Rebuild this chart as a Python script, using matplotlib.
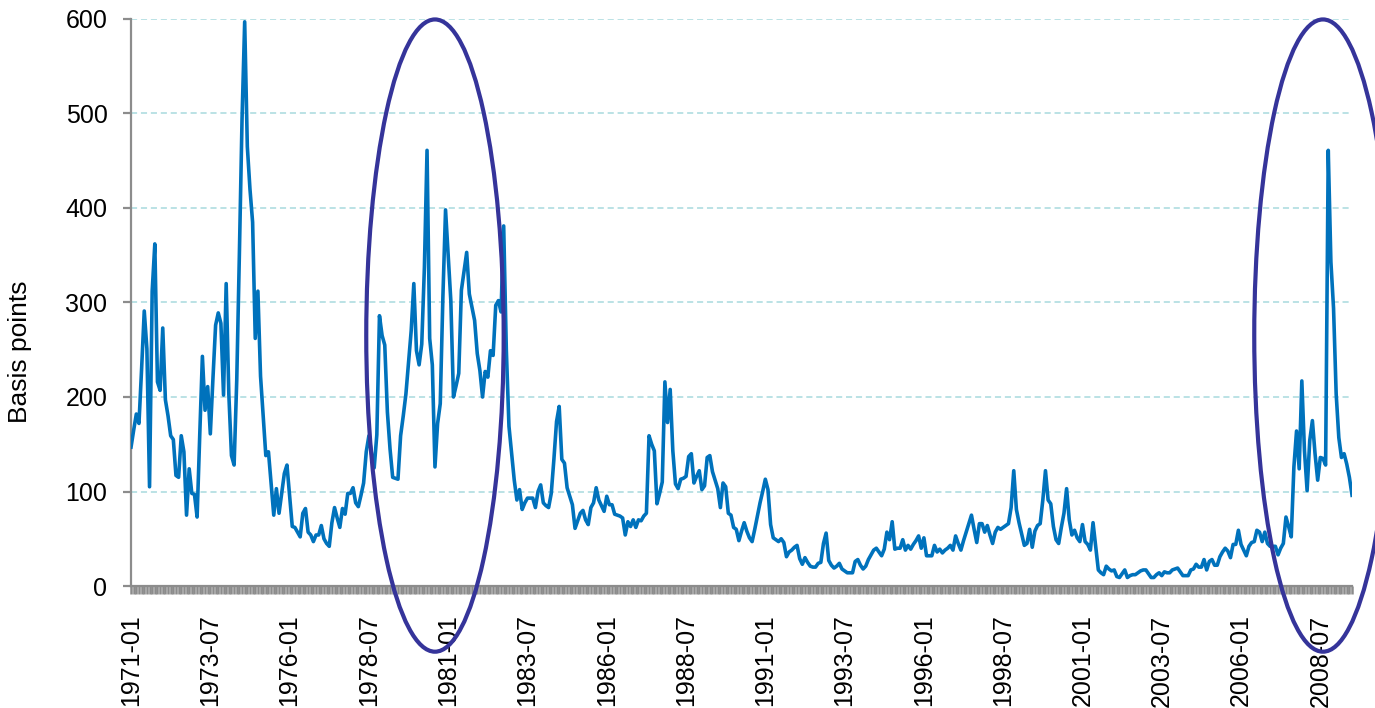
"""Spread in basis points, monthly, 1971-2009, with two highlighted periods."""

import matplotlib
matplotlib.use("Agg")
import matplotlib.pyplot as plt
from matplotlib.patches import Ellipse
from matplotlib.ticker import MultipleLocator
import pandas as pd

plt.rcParams['font.family'] = ['Liberation Sans', 'DejaVu Sans']

# monthly values, one row per year (1971-01 .. 2009-07)
spread = [
    147, 165, 182, 172, 230, 291, 251, 105, 312, 362, 216, 207,  # 1971
    273, 197, 180, 159, 155, 117, 115, 159, 142, 75, 124, 98,    # 1972
    97, 73, 160, 243, 186, 211, 161, 220, 276, 289, 278, 202,    # 1973
    320, 203, 138, 128, 218, 352, 494, 597, 465, 420, 385, 262,  # 1974
    312, 222, 180, 138, 142, 109, 75, 103, 77, 98, 119, 128,     # 1975
    95, 63, 62, 57, 52, 77, 82, 57, 54, 47, 54, 54,              # 1976
    64, 50, 45, 42, 67, 83, 72, 62, 82, 76, 98, 98,              # 1977
    104, 88, 84, 96, 109, 142, 159, 140, 125, 160, 286, 265,     # 1978
    255, 184, 145, 115, 114, 113, 159, 180, 203, 236, 270, 320,  # 1979
    249, 234, 256, 337, 461, 262, 234, 126, 172, 193, 306, 398,  # 1980
    350, 302, 200, 212, 225, 313, 333, 353, 309, 295, 281, 246,  # 1981
    228, 200, 227, 221, 249, 244, 297, 302, 290, 381, 250, 169,  # 1982
    141, 112, 91, 102, 81, 88, 93, 93, 93, 83, 100, 107,         # 1983
    88, 85, 83, 98, 134, 174, 190, 134, 130, 104, 95, 86,        # 1984
    61, 69, 77, 80, 70, 65, 83, 88, 104, 91, 85, 79,             # 1985
    95, 86, 86, 76, 75, 74, 72, 54, 68, 63, 70, 62,              # 1986
    70, 69, 74, 77, 159, 150, 143, 87, 98, 110, 216, 173,        # 1987
    208, 143, 108, 103, 113, 114, 116, 137, 140, 109, 116, 122,  # 1988
    102, 106, 136, 138, 121, 112, 103, 83, 109, 105, 77, 75,     # 1989
    62, 60, 48, 58, 67, 58, 51, 47, 60, 74, 88, 100,             # 1990
    113, 102, 65, 51, 49, 47, 50, 46, 31, 36, 38, 41,            # 1991
    43, 29, 23, 30, 25, 21, 20, 20, 24, 25, 45, 56,              # 1992
    27, 22, 19, 21, 24, 18, 16, 14, 14, 14, 26, 28,              # 1993
    22, 18, 21, 28, 33, 38, 40, 36, 32, 39, 57, 49,              # 1994
    68, 39, 40, 40, 49, 38, 43, 39, 44, 48, 53, 40,              # 1995
    51, 32, 32, 32, 43, 36, 39, 35, 38, 40, 43, 38,              # 1996
    53, 45, 38, 48, 57, 66, 75, 60, 46, 66, 66, 57,              # 1997
    64, 54, 45, 57, 62, 60, 62, 64, 66, 83, 122, 81,             # 1998
    67, 55, 43, 45, 60, 41, 58, 64, 66, 91, 122, 91,             # 1999
    87, 63, 49, 45, 62, 77, 103, 70, 54, 59, 51, 47,             # 2000
    65, 47, 44, 38, 67, 42, 17, 14, 12, 21, 18, 16,              # 2001
    17, 10, 9, 13, 17, 9, 11, 12, 12, 14, 16, 17,                # 2002
    17, 13, 9, 9, 12, 14, 11, 15, 14, 14, 17, 18,                # 2003
    19, 15, 11, 11, 11, 17, 18, 23, 20, 20, 28, 17,              # 2004
    26, 28, 22, 22, 31, 36, 40, 37, 30, 44, 44, 59,              # 2005
    44, 38, 32, 42, 46, 47, 59, 57, 47, 57, 45, 42,              # 2006
    42, 42, 33, 40, 45, 73, 63, 52, 126, 164, 124, 217,          # 2007
    143, 101, 154, 175, 140, 112, 136, 135, 128, 461, 343, 294,  # 2008
    203, 157, 136, 140, 129, 115, 96,                            # 2009
]
start_month = '1971-01'
label_step = 30  # one date label every 30 months

# periods circled on the chart: (centre month, centre value, width in months, height in bp)
circles = [('1980-08', 265, 52, 669), ('2008-08', 265, 52, 669)]

months = pd.period_range(start_month, periods=len(spread), freq='M')
x = list(range(len(spread)))

fig = plt.figure(figsize=(13.75, 7.08), dpi=100)
ax = fig.add_axes([0.0953, 0.1723, 0.888, 0.8009])

ax.plot(x, spread, color='#0072bc', lw=2.6, solid_joinstyle='round', zorder=3)

ax.set_xlim(0, len(spread) - 1)
ax.set_ylim(0, 600)
ax.set_yticks(range(0, 601, 100))
ax.yaxis.grid(True, color='#a8dade', ls=(0, (4, 2.5)), lw=1.1)
ax.set_axisbelow(True)

ax.set_xticks(x[::label_step])
ax.set_xticklabels([m.strftime('%Y-%m') for m in months[::label_step]], rotation=90)
ax.xaxis.set_minor_locator(MultipleLocator(1))

for side in ['top', 'right']:
    ax.spines[side].set_visible(False)
for side in ['left', 'bottom']:
    ax.spines[side].set_color('#8c8c8c')
    ax.spines[side].set_linewidth(1.6)

ax.tick_params(axis='y', direction='out', length=6, width=1.6, color='#8c8c8c',
               labelsize=18, pad=11)
ax.tick_params(axis='x', which='both', direction='out', length=5.5, width=1.8,
               color='#8c8c8c', labelsize=18, pad=15)

ax.set_ylabel('Basis points', fontsize=19)
ax.yaxis.set_label_coords(-0.081, 0.413)

for month, val, w, h in circles:
    cx = months.get_loc(pd.Period(month, freq='M'))
    e = Ellipse((cx, val), w, h, fill=False, edgecolor='#35349a', lw=3,
                clip_on=False, zorder=5)
    ax.add_patch(e)

plt.savefig('out.png', dpi=100)
